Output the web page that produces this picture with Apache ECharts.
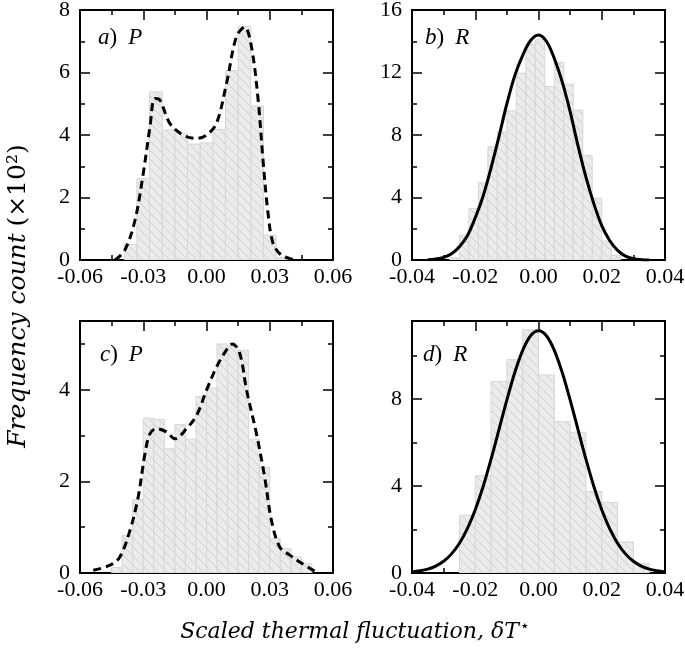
<!DOCTYPE html>
<html><head><meta charset="utf-8">
<script src="https://cdn.jsdelivr.net/npm/echarts@6/dist/echarts.min.js"></script>
<style>html,body{margin:0;padding:0;background:#fff}#c{width:685px;height:650px}</style>
</head><body><div id="c"></div>
<script>
// ---------- data ----------
// panel a) P
const aBinWidth = 0.006;
const aBinCenters = [-0.036,-0.030,-0.024,-0.018,-0.012,-0.006,0.000,0.006,0.012,0.018,0.024,0.030,0.036];
const aBinCounts  = [0.50,2.61,5.38,4.16,4.05,3.71,3.75,4.18,6.06,7.47,4.93,0.80,0.08];
const aCurveX = [-0.0434,-0.0387,-0.0339,-0.0300,-0.0268,-0.0245,-0.0221,-0.0174,-0.0111,-0.0047,0.0000,0.0047,0.0095,0.0142,0.0181,0.0213,0.0245,0.0268,0.0292,0.0316,0.0355,0.0410];
const aCurveY = [0.00,0.32,1.28,2.77,4.27,5.17,5.12,4.37,4.00,3.89,4.00,4.37,5.65,7.15,7.45,6.83,5.12,3.20,1.49,0.53,0.16,0.02];
// panel b) R
const bBinWidth = 0.003;
const bBinCenters = [-0.0265,-0.0235,-0.0205,-0.0175,-0.0145,-0.0115,-0.0085,-0.0055,-0.0025,0.0005,0.0035,0.0065,0.0095,0.0125,0.0155,0.0185,0.0215,0.0245];
const bBinCounts  = [0.15,1.60,3.30,4.95,7.25,8.20,9.55,11.95,13.80,14.10,11.10,12.65,11.25,9.60,6.70,3.95,1.20,0.30];
const bCurveX = [-0.035,-0.0325,-0.030,-0.0275,-0.025,-0.0225,-0.020,-0.0175,-0.015,-0.0125,-0.010,-0.0075,-0.005,-0.0025,0.000,0.0025,0.005,0.0075,0.010,0.0125,0.015,0.0175,0.020,0.0225,0.025,0.0275,0.030,0.0325,0.035];
const bCurveY = [0.01,0.06,0.17,0.40,0.85,1.55,2.70,4.10,5.90,7.90,10.00,11.80,13.10,14.05,14.40,14.00,12.90,11.40,9.50,7.30,5.30,3.60,2.20,1.25,0.62,0.25,0.08,0.02,0.00];
// panel c) P
const cBinWidth = 0.005;
const cBinCenters = [-0.0425,-0.0375,-0.0325,-0.0275,-0.0225,-0.0175,-0.0125,-0.0075,-0.0025,0.0025,0.0075,0.0125,0.0175,0.0225,0.0275,0.0325,0.0375,0.0425,0.0475];
const cBinCounts  = [0.12,0.82,1.60,3.38,3.35,2.71,3.24,2.92,3.85,4.04,5.00,4.95,4.86,2.92,2.30,0.75,0.53,0.35,0.20];
const cCurveX = [-0.0537,-0.0458,-0.0411,-0.0363,-0.0324,-0.0292,-0.0268,-0.0237,-0.0190,-0.0150,-0.0095,-0.0047,0.0000,0.0047,0.0095,0.0123,0.0158,0.0190,0.0237,0.0276,0.0308,0.0347,0.0395,0.0442,0.0520];
const cCurveY = [0.06,0.17,0.35,0.93,1.66,2.60,3.04,3.15,3.08,2.93,3.15,3.44,3.99,4.49,4.87,5.00,4.79,3.99,3.04,2.09,1.15,0.57,0.39,0.24,0.02];
// panel d) R
const dBinWidth = 0.005;
const dBinCenters = [-0.0225,-0.0175,-0.0125,-0.0075,-0.0025,0.0025,0.0075,0.0125,0.0175,0.0225,0.0275,0.0325];
const dBinCounts  = [2.66,4.48,8.82,9.82,11.20,9.12,6.97,6.48,3.75,3.25,1.43,0.43];
const dCurveX = [-0.040,-0.0375,-0.035,-0.0325,-0.030,-0.0275,-0.025,-0.0225,-0.020,-0.0175,-0.015,-0.0125,-0.010,-0.0075,-0.005,-0.0025,0.000,0.0025,0.005,0.0075,0.010,0.0125,0.015,0.0175,0.020,0.0225,0.025,0.0275,0.030,0.0325,0.035,0.0375,0.040];
const dCurveY = [0.05,0.10,0.18,0.32,0.54,0.88,1.37,2.04,2.91,3.98,5.24,6.60,7.97,9.23,10.25,10.92,11.15,10.92,10.25,9.23,7.97,6.60,5.24,3.98,2.91,2.04,1.37,0.88,0.54,0.32,0.18,0.10,0.05];
// axes
const xRangeP = [-0.06, 0.06], xIntervalP = 0.03;
const xRangeR = [-0.04, 0.04], xIntervalR = 0.02;
const yRanges = [[0, 8], [0, 16], [0, 5.5], [0, 11.6]];
const yIntervals = [2, 4, 2, 4];
const panelLabels = [['a', 'P'], ['b', 'R'], ['c', 'P'], ['d', 'R']];
const xTitle = 'Scaled thermal fluctuation, δT';
const yTitle = 'Frequency count';

// ---------- chart ----------
const FONT = '"Liberation Serif", "DejaVu Serif", serif';
const TFONT = '"DejaVu Serif", "Liberation Serif", serif';
const chart = echarts.init(document.getElementById('c'), null, {renderer: 'canvas'});

function makePattern() {
  const s = 9, cv = document.createElement('canvas');
  cv.width = s; cv.height = s;
  const g = cv.getContext('2d');
  g.fillStyle = '#ebebeb'; g.fillRect(0, 0, s, s);
  g.strokeStyle = '#cfcfcf'; g.lineWidth = 1;
  g.beginPath();
  g.moveTo(-1, -1); g.lineTo(s + 1, s + 1);
  g.moveTo(-1, s - 1); g.lineTo(1, s + 1);
  g.moveTo(s - 1, -1); g.lineTo(s + 1, 1);
  g.stroke();
  return cv;
}
const pattern = makePattern();

const grids = [
  {left: 80, top: 10, width: 253, height: 250},
  {left: 412, top: 10, width: 253, height: 250},
  {left: 80, top: 321, width: 253, height: 252},
  {left: 412, top: 321, width: 253, height: 252}
];
const xRanges = [xRangeP, xRangeR, xRangeP, xRangeR];
const xIntervals = [xIntervalP, xIntervalR, xIntervalP, xIntervalR];

const tickStyle = {color: '#000', width: 1.5};
const xAxes = [], yAxes = [];
grids.forEach((g, i) => {
  ['bottom', 'top'].forEach(pos => {
    xAxes.push({
      type: 'value', gridIndex: i, position: pos,
      min: xRanges[i][0], max: xRanges[i][1], interval: xIntervals[i],
      axisLine: {show: false, onZero: false}, splitLine: {show: false},
      axisTick: {show: true, inside: true, length: 10, lineStyle: tickStyle},
      minorTick: {show: true, splitNumber: 2, length: 5, lineStyle: tickStyle},
      axisLabel: {
        show: pos === 'bottom', margin: 6, fontFamily: FONT, fontSize: 22, color: '#000',
        formatter: v => Math.abs(v) < 1e-9 ? '0.00' : v.toFixed(2)
      }
    });
  });
  ['left', 'right'].forEach(pos => {
    [true, false].forEach(major => {
      yAxes.push({
        type: 'value', gridIndex: i, position: pos, offset: 0,
        min: yRanges[i][0], max: yRanges[i][1],
        interval: major ? yIntervals[i] : yIntervals[i] / 2,
        axisLine: {show: false, onZero: false}, splitLine: {show: false},
        axisTick: {show: true, inside: true, length: major ? 10 : 5, lineStyle: tickStyle},
        axisLabel: {
          show: major && pos === 'left', margin: 10, fontFamily: FONT, fontSize: 22, color: '#000',
          showMaxLabel: yRanges[i][1] % yIntervals[i] === 0,
          formatter: v => String(Math.round(v))
        }
      });
    });
  });
});

function histSeries(i, centers, counts, width) {
  return {
    type: 'custom', xAxisIndex: i * 2, yAxisIndex: i * 4, z: 1, clip: true,
    data: centers.map((c, k) => [c, counts[k]]),
    renderItem: (params, api) => {
      const c = api.value(0), h = api.value(1);
      const p0 = api.coord([c - width / 2, 0]);
      const p1 = api.coord([c + width / 2, h]);
      return {
        type: 'rect',
        shape: {x: p0[0], y: p1[1], width: p1[0] - p0[0], height: p0[1] - p1[1]},
        style: {fill: {image: pattern, repeat: 'repeat'}, stroke: '#d6d6d6', lineWidth: 1}
      };
    }
  };
}
function curveSeries(i, xs, ys, dashed) {
  return {
    type: 'line', xAxisIndex: i * 2, yAxisIndex: i * 4, z: 3,
    data: xs.map((x, k) => [x, ys[k]]),
    smooth: 0.35, showSymbol: false, symbol: 'none', silent: true,
    lineStyle: {color: '#000', width: 3, type: dashed ? [8, 5] : 'solid', cap: 'butt'}
  };
}

const series = [
  histSeries(0, aBinCenters, aBinCounts, aBinWidth),
  histSeries(1, bBinCenters, bBinCounts, bBinWidth),
  histSeries(2, cBinCenters, cBinCounts, cBinWidth),
  histSeries(3, dBinCenters, dBinCounts, dBinWidth),
  curveSeries(0, aCurveX, aCurveY, true),
  curveSeries(1, bCurveX, bCurveY, false),
  curveSeries(2, cCurveX, cCurveY, true),
  curveSeries(3, dCurveX, dCurveY, false)
];

const labelPos = [[98, 38], [425, 38], [100, 355], [423, 355]];
const graphic = panelLabels.map((pl, i) => ({
  type: 'text', x: labelPos[i][0], y: labelPos[i][1], z: 10,
  style: {
    text: '{i|' + pl[0] + '}{n|)}{p|' + pl[1] + '}',
    rich: {
      i: {fontFamily: FONT, fontStyle: 'italic', fontSize: 23, fill: '#000'},
      n: {fontFamily: FONT, fontSize: 23, fill: '#000'},
      p: {fontFamily: FONT, fontStyle: 'italic', fontSize: 23, fill: '#000', padding: [0, 0, 0, 11]}
    },
    verticalAlign: 'middle', align: 'left'
  }
}));
graphic.push({
  type: 'text', x: 355, y: 632, z: 10,
  style: {
    text: '{i|' + xTitle + '}{s|⋆}',
    rich: {
      i: {fontFamily: TFONT, fontStyle: 'italic', fontSize: 22, fill: '#000'},
      s: {fontFamily: '"DejaVu Sans", sans-serif', fontSize: 16, fill: '#000', verticalAlign: 'top', padding: [0, 0, 10, 1]}
    },
    align: 'center', verticalAlign: 'middle'
  }
});
graphic.push({
  type: 'text', x: 18, y: 296, rotation: Math.PI / 2, z: 10,
  style: {
    text: '{i|' + yTitle + '}  {n|(×10²)}',
    rich: {
      i: {fontFamily: TFONT, fontStyle: 'italic', fontSize: 25, fill: '#000'},
      n: {fontFamily: TFONT, fontSize: 25, fill: '#000'}
    },
    align: 'center', verticalAlign: 'middle'
  }
});

chart.setOption({
  animation: false,
  backgroundColor: '#fff',
  grid: grids.map(g => Object.assign({}, g, {show: true, borderColor: '#000', borderWidth: 2, backgroundColor: 'transparent', containLabel: false, outerBoundsMode: 'none'})),
  xAxis: xAxes,
  yAxis: yAxes,
  series: series,
  graphic: graphic
});
</script>
</body></html>
